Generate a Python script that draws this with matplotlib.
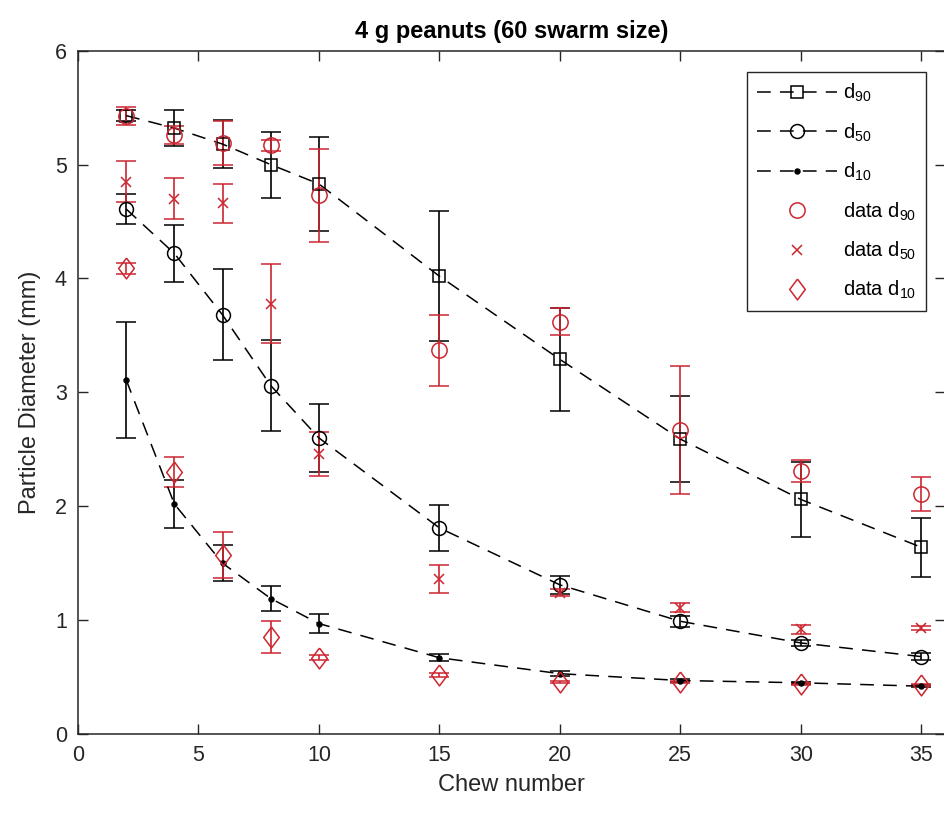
#! /usr/bin/env python3

import matplotlib
matplotlib.use('Agg')
import matplotlib.pyplot as plt
from matplotlib import font_manager

# chew numbers
chews = [2, 4, 6, 8, 10, 15, 20, 25, 30, 35]

# model (swarm) results, black
d90_model = [5.43, 5.32, 5.18, 5.00, 4.83, 4.02, 3.29, 2.59, 2.06, 1.64]
d90_model_err = [0.05, 0.16, 0.21, 0.29, 0.41, 0.57, 0.45, 0.38, 0.33, 0.26]
d50_model = [4.61, 4.22, 3.68, 3.06, 2.60, 1.81, 1.31, 0.99, 0.80, 0.68]
d50_model_err = [0.13, 0.25, 0.40, 0.40, 0.30, 0.20, 0.08, 0.05, 0.03, 0.03]
d10_model = [3.11, 2.02, 1.50, 1.19, 0.97, 0.67, 0.53, 0.47, 0.45, 0.42]
d10_model_err = [0.51, 0.21, 0.16, 0.11, 0.08, 0.03, 0.02, 0.01, 0.01, 0.01]

# measured data, red
d90_data = [5.43, 5.26, 5.19, 5.17, 4.73, 3.37, 3.62, 2.67, 2.31, 2.11]
d90_data_err = [0.08, 0.08, 0.19, 0.05, 0.41, 0.31, 0.12, 0.56, 0.10, 0.15]
d50_data = [4.85, 4.70, 4.66, 3.78, 2.46, 1.36, 1.24, 1.11, 0.92, 0.93]
d50_data_err = [0.18, 0.18, 0.17, 0.35, 0.19, 0.12, 0.03, 0.04, 0.04, 0.02]
d10_data = [4.09, 2.30, 1.57, 0.85, 0.67, 0.52, 0.46, 0.46, 0.44, 0.43]
d10_data_err = [0.05, 0.13, 0.20, 0.14, 0.02, 0.02, 0.01, 0.01, 0.01, 0.01]

# matlab style diamond, a bit taller than wide
DIAMOND = [(0, 1), (0.75, 0), (0, -1), (-0.75, 0), (0, 1)]


def pick_font(names):
    for n in names:
        try:
            font_manager.findfont(n, fallback_to_default=False)
            return n
        except ValueError:
            pass
    return 'DejaVu Sans'


def main():
    font = pick_font(['Liberation Sans', 'Arial', 'DejaVu Sans'])
    plt.rcParams['font.family'] = [font, 'DejaVu Sans']
    plt.rcParams['mathtext.default'] = 'regular'

    grey = '#262626'
    red = '#cc2630'

    fig = plt.figure(figsize=(9.44, 8.23), dpi=100)
    ax = fig.add_axes([0.0826, 0.1081, 0.9188, 0.8303])

    dash = (0, (9, 6))
    # (values, errors, marker, size, face, label)
    model = [(d90_model, d90_model_err, 's', 9, 'none', 'd$_{90}$'),
             (d50_model, d50_model_err, 'o', 10, 'none', 'd$_{50}$'),
             (d10_model, d10_model_err, '.', 7, 'k', 'd$_{10}$')]
    for vals, err, mk, ms, fc, lab in model:
        ax.errorbar(chews, vals, yerr=err, color='k', ls=dash, lw=1.1,
                    marker=mk, ms=ms, mfc=fc, mec='k', mew=1.1,
                    ecolor='k', elinewidth=1.2, capsize=7, capthick=1.2,
                    label=lab)

    data = [(d90_data, d90_data_err, 'o', 11, 'data d$_{90}$'),
            (d50_data, d50_data_err, 'x', 7, 'data d$_{50}$'),
            (d10_data, d10_data_err, DIAMOND, 15, 'data d$_{10}$')]
    for vals, err, mk, ms, lab in data:
        ax.errorbar(chews, vals, yerr=err, color=red, ls='none', lw=1.1,
                    marker=mk, ms=ms, mfc='none', mec=red, mew=1.1,
                    ecolor=red, elinewidth=1.2, capsize=7, capthick=1.2,
                    label=lab)

    ax.set_xlim(0, 36)
    ax.set_ylim(0, 6)
    ax.set_xticks(range(0, 36, 5))
    ax.set_yticks(range(0, 7))
    ax.tick_params(direction='in', length=7, width=1.0, top=True, right=True,
                   labelsize=15.5, colors=grey, pad=8)
    for s in ax.spines.values():
        s.set_color(grey)
        s.set_linewidth(1.1)

    ax.set_xlabel('Chew number', fontsize=17, color=grey, labelpad=6)
    ax.set_ylabel('Particle Diameter (mm)', fontsize=17, color=grey, labelpad=10)
    ax.set_title('4 g peanuts (60 swarm size)', fontsize=17, fontweight='bold',
                 pad=9)

    handles, labels = ax.get_legend_handles_labels()
    # drop the error bars from the legend keys
    handles = [h[0] for h in handles]
    leg = ax.legend(handles, labels, loc='upper right',
                    bbox_to_anchor=(0.9775, 0.969), fontsize=14.5,
                    handlelength=4.0, handletextpad=0.25, labelspacing=0.85,
                    borderpad=0.5, fancybox=False, framealpha=1,
                    edgecolor=grey, borderaxespad=0)
    leg.get_frame().set_linewidth(1.0)

    plt.savefig('out.png', dpi=100)
    print('saved chart to out.png')


if __name__ == '__main__':
    main()
